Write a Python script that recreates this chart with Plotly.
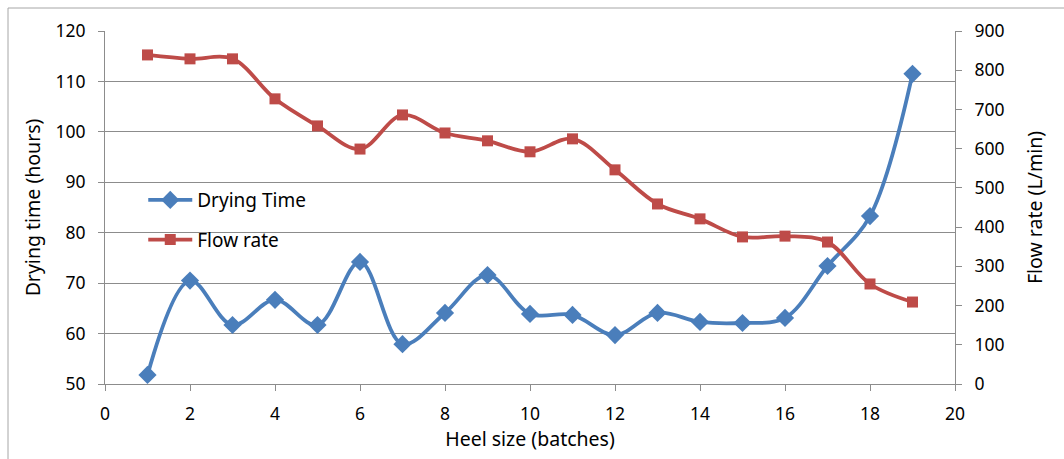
import plotly.graph_objects as go

# Heel size in batches
heel_size = list(range(1, 20))

# Drying time (hours), left axis
drying_time = [51.8, 70.5, 61.7, 66.7, 61.7, 74.2, 57.9, 64.1, 71.6, 63.9,
               63.7, 59.7, 64.1, 62.3, 62.1, 63.1, 73.4, 83.3, 111.5]

# Flow rate (L/min), right axis
flow_rate = [839, 829, 829, 727, 658, 599, 686, 640, 620, 592,
             625, 546, 459, 421, 375, 377, 362, 255, 209]

x_ticks = list(range(0, 21, 2))
left_ticks = list(range(50, 121, 10))
right_ticks = list(range(0, 901, 100))

BLUE = "#4A7EBB"
RED = "#BE4B48"
GRID = "#8C8C8C"
FONT = "Noto Sans"

fig = go.Figure()

fig.add_trace(go.Scatter(
    x=heel_size, y=drying_time, name="Drying Time",
    mode="lines+markers", line=dict(color=BLUE, width=3.8, shape="spline", smoothing=1),
    marker=dict(symbol="diamond", size=14, color=BLUE),
    legendgroup="a", yaxis="y",
))
fig.add_trace(go.Scatter(
    x=heel_size, y=flow_rate, name="Flow rate",
    mode="lines+markers", line=dict(color=RED, width=3.8, shape="spline", smoothing=1),
    marker=dict(symbol="square", size=11, color=RED),
    legendgroup="b", yaxis="y2",
))

axis_font = dict(family=FONT, size=17.5, color="#000000")
title_font = dict(family=FONT, size=19.5, color="#000000")

fig.update_layout(
    width=1064, height=459,
    margin=dict(l=105, r=109, t=31, b=75),
    paper_bgcolor="white", plot_bgcolor="white",
    font=dict(family=FONT, color="#000000"),
    xaxis=dict(
        range=[0, 20], tickvals=x_ticks, ticktext=[str(v) for v in x_ticks],
        showgrid=False, zeroline=False, showline=True, linecolor=GRID, linewidth=1,
        ticks="outside", ticklen=6, tickcolor=GRID, tickfont=axis_font,
        ticklabelstandoff=8,
        title=dict(text="Heel size (batches)", font=title_font, standoff=7),
    ),
    yaxis=dict(
        range=[50, 120], tickvals=left_ticks,
        showgrid=True, gridcolor=GRID, gridwidth=1, zeroline=False,
        showline=True, linecolor=GRID, linewidth=1,
        ticks="outside", ticklen=6, tickcolor=GRID, tickfont=axis_font,
        ticklabelstandoff=9,
        title=dict(text="Drying time (hours)", font=title_font, standoff=9),
    ),
    yaxis2=dict(
        range=[0, 900], tickvals=right_ticks, overlaying="y", side="right",
        showgrid=False, zeroline=False, showline=True, linecolor=GRID, linewidth=1,
        ticks="outside", ticklen=6, tickcolor=GRID, tickfont=axis_font,
        ticklabelstandoff=9,
        title=dict(text="Flow rate (L/min)", font=title_font, standoff=24),
    ),
    legend=dict(
        x=0.045, y=0.575, xanchor="left", yanchor="top",
        bgcolor="rgba(0,0,0,0)", font=dict(family=FONT, size=19),
        traceorder="grouped", tracegroupgap=12, itemwidth=44,
    ),
    shapes=[dict(
        type="rect", xref="paper", yref="paper",
        x0=(8 - 105) / 850, x1=(1075 - 105) / 850,
        y0=(384 - 475) / 353, y1=(384 - 8) / 353,
        line=dict(color="#A6A6A6", width=1), fillcolor="rgba(0,0,0,0)", layer="below",
    )],
)

fig.write_html("out.html")
